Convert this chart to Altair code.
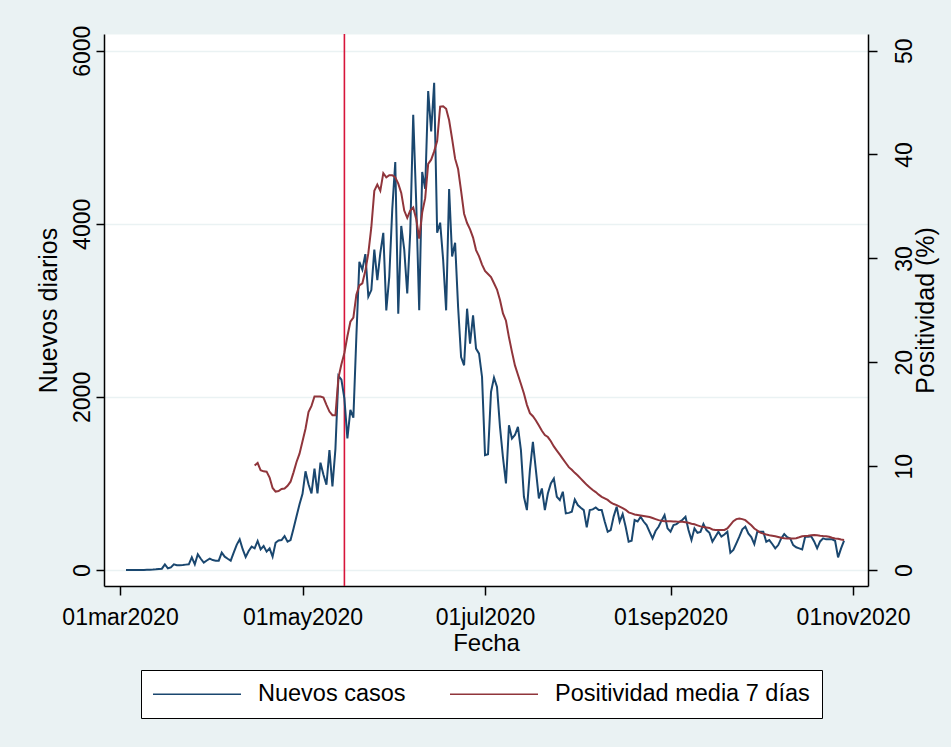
import altair as alt
import pandas as pd

# ---------------- data ----------------
CASES_START = "2020-03-03"
cases = [
    0, 0, 0, 0, 0, 0, 1, 2, 3,
    5, 8, 12, 15, 65, 20, 30, 65, 55, 55,
    58, 62, 65, 146, 65, 181, 130, 85, 110, 131,
    115, 108, 108, 200, 154, 130, 108, 200, 290, 354,
    240, 150, 220, 270, 250, 335, 238, 277, 212, 250,
    154, 315, 340, 346, 392, 327, 346, 480, 620, 760,
    880, 1140, 990, 884, 1170, 884, 1240, 1100, 985, 1384,
    965, 1400, 2245, 2200, 1980, 1520, 1850, 1760, 2700, 3560,
    3470, 3650, 3160, 3234, 3701, 3350, 3662, 3896, 3000, 3390,
    4170, 4714, 2961, 3975, 3701, 3195, 3900, 5261, 4247, 3000,
    4598, 4403, 5534, 5067, 5630, 3896, 4013, 3585, 3000, 4403,
    3623, 3780, 3039, 2461, 2365, 3019, 2615, 2942, 2558, 2500,
    2230, 1327, 1338, 2057, 2223, 2115, 1653, 1300, 1000, 1673,
    1519, 1560, 1653, 1384, 846, 692, 1154, 1480, 1154, 827,
    942, 692, 884, 1000, 1057, 846, 808, 904, 654, 660,
    673, 815, 750, 720, 692, 492, 692, 700, 723, 692,
    692, 560, 442, 461, 620, 731, 558, 646, 500, 327,
    338, 577, 560, 615, 560, 519, 440, 365, 450, 500,
    570, 635, 481, 442, 519, 530, 558, 580, 615, 461,
    346, 481, 430, 440, 531, 461, 430, 327, 385, 442,
    385, 410, 442, 200, 231, 308, 385, 470, 500, 423,
    380, 300, 442, 442, 442, 327, 346, 300, 250, 288,
    365, 415, 380, 365, 288, 262, 250, 238, 385, 385,
    390, 330, 250, 330, 365, 354, 354, 354, 338, 146,
    250, 338,
]

POS_START = "2020-04-15"
positivity = [
    10.06, 10.3, 9.6, 9.5, 9.47, 8.9,
    7.9, 7.55, 7.6, 7.8, 7.85, 8.1, 8.5, 9.4, 10.4, 11.2,
    12.4, 13.6, 15.2, 15.8, 16.7, 16.7, 16.7, 16.6, 15.9, 15.25,
    14.9, 14.9, 18.5, 19.8, 20.9, 22.5, 23.9, 24.3, 26.5, 27.4,
    27.6, 28.8, 30.5, 33.0, 36.5, 37.1, 36.5, 38.2, 37.8, 38.0,
    38.0, 37.8, 37.2, 36.3, 34.6, 33.9, 34.6, 34.9, 33.8, 31.9,
    34.4, 35.8, 39.1, 39.5, 40.3, 41.3, 44.6, 44.65, 44.4, 43.3,
    41.5, 39.6, 38.6, 36.5, 34.3, 33.4, 32.8, 32.0, 30.8, 30.2,
    29.4, 28.8, 28.5, 28.2, 27.6, 27.0, 26.0, 24.7, 24.0, 22.4,
    21.0, 19.7, 18.8, 17.9, 17.0, 15.9, 15.1, 14.8, 14.4, 13.9,
    13.4, 13.0, 12.8, 12.4, 11.9, 11.5, 11.1, 10.7, 10.3, 9.9,
    9.65, 9.35, 9.1, 8.8, 8.5, 8.2, 7.95, 7.7, 7.5, 7.25,
    7.05, 6.9, 6.75, 6.5, 6.35, 6.25, 6.1, 5.95, 5.8, 5.55,
    5.45, 5.35, 5.3, 5.25, 5.2, 5.15, 5.1, 5.0, 4.9, 4.8,
    4.75, 4.7, 4.7, 4.7, 4.68, 4.66, 4.65, 4.65, 4.6, 4.55,
    4.45, 4.4, 4.3, 4.2, 4.15, 4.1, 4.05, 3.9, 3.85, 3.85,
    3.85, 3.85, 4.0, 4.35, 4.7, 4.9, 4.95, 4.9, 4.8, 4.55,
    4.3, 4.0, 3.8, 3.6, 3.5, 3.42, 3.35, 3.3, 3.25, 3.18,
    3.1, 3.05, 3.04, 3.04, 3.04, 3.06, 3.15, 3.25, 3.28, 3.3,
    3.35, 3.37, 3.35, 3.3, 3.27, 3.25, 3.2, 3.1, 3.04, 3.0,
    2.93, 2.88,
]

EVENT_DATE = "2020-05-15"

series_names = ["Nuevos casos", "Positividad media 7 días"]
series_colors = ["#1A476F", "#90353B"]

x_tick_dates = [(2020, 3, 1), (2020, 5, 1), (2020, 7, 1), (2020, 9, 1), (2020, 11, 1)]
y_left_ticks = [0, 2000, 4000, 6000]
y_right_ticks = [0, 10, 20, 30, 40, 50]

# ---------------- tables ----------------
df_cases = pd.DataFrame({
    "fecha": pd.date_range(CASES_START, periods=len(cases), freq="D"),
    "valor": cases,
    "serie": series_names[0],
})
df_pos = pd.DataFrame({
    "fecha": pd.date_range(POS_START, periods=len(positivity), freq="D"),
    "valor": positivity,
    "serie": series_names[1],
})
df_event = pd.DataFrame({"fecha": [pd.Timestamp(EVENT_DATE)]})

FONT = "Liberation Sans"
BG = "#EAF2F3"

x_domain = [
    alt.DateTime(year=2020, month=2, date=24, hours=15, minutes=36),
    alt.DateTime(year=2020, month=11, date=6),
]
x_enc = alt.X(
    "fecha:T",
    title="Fecha",
    scale=alt.Scale(domain=x_domain),
    axis=alt.Axis(
        values=[alt.DateTime(year=y, month=m, date=d) for (y, m, d) in x_tick_dates],
        labelExpr="lower(timeFormat(datum.value, '%d%b%Y'))",
        labelFlush=False,
        labelOverlap=False,
        grid=False,
        tickSize=9,
        labelPadding=11,
        titlePadding=2,
        titleFontSize=24,
    ),
)

legend = alt.Legend(
    title=None,
    orient="none",
    legendX=37,
    legendY=636,
    direction="horizontal",
    symbolType="M-4,0H4",
    symbolSize=484,
    symbolStrokeWidth=1.6,
    symbolOffset=32,
    labelOffset=49,
    labelFontSize=23.5,
    labelFont=FONT,
    labelColor="black",
    labelLimit=500,
    padding=12,
    columnPadding=40,
    strokeColor="black",
    fillColor="white",
)
color_enc = alt.Color(
    "serie:N",
    scale=alt.Scale(domain=series_names, range=series_colors),
    legend=legend,
)

rule = alt.Chart(df_event).mark_rule(color="#D7153A", strokeWidth=1.6).encode(
    x=alt.X("fecha:T")
)

blue = alt.Chart(df_cases).mark_line(strokeWidth=2).encode(
    x=x_enc,
    y=alt.Y(
        "valor:Q",
        title="Nuevos diarios",
        scale=alt.Scale(domain=[-185, 6193], nice=False, zero=False),
        axis=alt.Axis(
            orient="left",
            values=y_left_ticks,
            format="d",
            labelAngle=270,
            labelAlign="center",
            labelBaseline="bottom",
            labelPadding=2,
            tickSize=8,
            grid=True,
            gridColor=BG,
            gridWidth=1.5,
            titlePadding=10,
            titleFontSize=25,
        ),
    ),
    color=color_enc,
)

red = alt.Chart(df_pos).mark_line(strokeWidth=2).encode(
    x=x_enc,
    y=alt.Y(
        "valor:Q",
        title="Positividad (%)",
        scale=alt.Scale(domain=[-1.54, 51.6], nice=False, zero=False),
        axis=alt.Axis(
            orient="right",
            values=y_right_ticks,
            format="d",
            labelAngle=270,
            labelAlign="center",
            labelBaseline="top",
            labelPadding=16,
            tickSize=9,
            grid=False,
            titleAngle=270,
            titleBaseline="top",
            titlePadding=-3,
            titleFontSize=25,
        ),
    ),
    color=color_enc,
)

chart = (
    alt.layer(rule, blue, red)
    .resolve_scale(y="independent")
    .properties(
        width=764,
        height=552,
        padding={"left": 104, "top": 34, "right": 83, "bottom": 161},
        autosize=alt.AutoSizeParams(type="none"),
        background=BG,
    )
    .configure_view(fill="white", stroke="transparent")
    .configure_axis(
        labelFont=FONT,
        titleFont=FONT,
        labelFontSize=23,
        titleFontWeight="normal",
        labelColor="black",
        titleColor="black",
        domainColor="black",
        domainWidth=1.5,
        tickColor="black",
        tickWidth=1.5,
    )
)

chart.save("out.html", embed_options={"renderer": "svg", "actions": False})
